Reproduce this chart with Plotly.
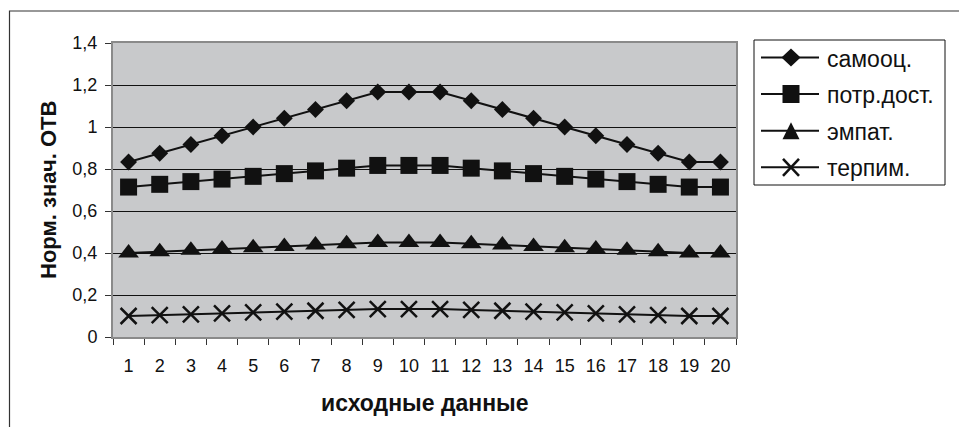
import plotly.graph_objects as go

# исходные данные: 20 наблюдений
categories = [str(i) for i in range(1, 21)]

samoots = [0.833, 0.875, 0.917, 0.958, 1.000, 1.042, 1.083, 1.125, 1.167, 1.167,
           1.167, 1.125, 1.083, 1.042, 1.000, 0.958, 0.917, 0.875, 0.833, 0.833]
potr_dost = [0.714, 0.727, 0.740, 0.752, 0.765, 0.778, 0.791, 0.804, 0.817, 0.817,
             0.817, 0.804, 0.791, 0.778, 0.765, 0.752, 0.740, 0.727, 0.714, 0.714]
empat = [0.400, 0.406, 0.413, 0.419, 0.425, 0.431, 0.438, 0.444, 0.450, 0.450,
         0.450, 0.444, 0.438, 0.431, 0.425, 0.419, 0.413, 0.406, 0.400, 0.400]
terpim = [0.100, 0.104, 0.108, 0.113, 0.117, 0.121, 0.125, 0.129, 0.133, 0.133,
          0.133, 0.129, 0.125, 0.121, 0.117, 0.113, 0.108, 0.104, 0.100, 0.100]

series_names = ["самооц.", "потр.дост.", "эмпат.", "терпим."]
y_ticks = [0, 0.2, 0.4, 0.6, 0.8, 1.0, 1.2, 1.4]

FONT = "Liberation Sans, Arial, Helvetica, sans-serif"
INK = "#111111"

# plot area in pixels (figure 959 x 427)
PX_L, PX_R, PX_T, PX_B = 113, 736, 43, 337


def px_x(px):
    return (px - PX_L) / (PX_R - PX_L)


def px_y(py):
    return (PX_B - py) / (PX_B - PX_T)


def poly(points):
    """Closed SVG path in paper coordinates from pixel vertices."""
    parts = [f"{px_x(x):.5f},{px_y(y):.5f}" for x, y in points]
    return "M" + " L".join(parts) + " Z"


symbols = ["diamond", "square", "triangle-up", "x-thin-open"]
plot_sizes = [13, 17, 18, 16]

series = list(zip(series_names, [samoots, potr_dost, empat, terpim], symbols, plot_sizes))

fig = go.Figure()
for name, values, symbol, size in series:
    is_x = symbol.startswith("x")
    fig.add_trace(go.Scatter(
        x=categories, y=values, name=name, mode="lines+markers",
        line=dict(color=INK, width=2),
        marker=dict(color=INK, symbol=symbol, size=size,
                    line=dict(width=2.5 if is_x else 0, color=INK)),
        showlegend=False,
    ))

# legend drawn by hand: box, line samples, marker glyphs, labels
LEG_L, LEG_R, LEG_T, LEG_B = 754, 945, 40, 185
LEG_ROWS = [57.5, 94, 130.7, 167.3]
SAMPLE_L, SAMPLE_R, MARK_X, TEXT_X = 761, 819, 791, 825

shapes = [
    # рамка области диаграммы
    dict(type="rect", xref="paper", yref="paper",
         x0=px_x(9.5), x1=1.6, y0=-0.6, y1=px_y(11),
         line=dict(color="#333333", width=1.2), fillcolor="rgba(0,0,0,0)", layer="below"),
    dict(type="rect", xref="paper", yref="paper",
         x0=px_x(LEG_L), x1=px_x(LEG_R), y0=px_y(LEG_B), y1=px_y(LEG_T),
         line=dict(color=INK, width=1), fillcolor="white", layer="below"),
]


def legend_glyph(symbol, cx, cy):
    fill = dict(type="path", xref="paper", yref="paper", fillcolor=INK, line=dict(width=0))
    if symbol == "diamond":
        return [dict(fill, path=poly([(cx - 9.5, cy), (cx, cy - 9), (cx + 9.5, cy), (cx, cy + 9)]))]
    if symbol == "square":
        return [dict(fill, path=poly([(cx - 8.5, cy - 9), (cx + 8.5, cy - 9),
                                      (cx + 8.5, cy + 9), (cx - 8.5, cy + 9)]))]
    if symbol == "triangle-up":
        return [dict(fill, path=poly([(cx - 8.5, cy + 8.5), (cx + 8.5, cy + 8.5), (cx, cy - 8.5)]))]
    cross = []
    for dx in (-8, 8):
        cross.append(dict(type="line", xref="paper", yref="paper",
                          x0=px_x(cx - dx), x1=px_x(cx + dx),
                          y0=px_y(cy - 8.5), y1=px_y(cy + 8.5),
                          line=dict(color=INK, width=2.5)))
    return cross


annotations = []
for (name, _, symbol, _), row in zip(series, LEG_ROWS):
    shapes.append(dict(type="line", xref="paper", yref="paper",
                       x0=px_x(SAMPLE_L), x1=px_x(SAMPLE_R), y0=px_y(row), y1=px_y(row),
                       line=dict(color=INK, width=2)))
    shapes.extend(legend_glyph(symbol, MARK_X, row))
    annotations.append(dict(text=name, xref="paper", yref="paper",
                            x=px_x(TEXT_X), y=px_y(row + 1), xanchor="left", yanchor="middle",
                            showarrow=False, font=dict(size=23, family=FONT, color=INK)))

annotations += [
    dict(text="<b>исходные данные</b>", xref="paper", yref="paper",
         x=0.5, y=px_y(403), xanchor="center", yanchor="middle",
         showarrow=False, font=dict(size=23, family=FONT, color=INK)),
    dict(text="<b>Норм. знач. ОТВ</b>", xref="paper", yref="paper",
         x=px_x(48), y=0.5, xanchor="center", yanchor="middle",
         textangle=-90, showarrow=False, font=dict(size=22, family=FONT, color=INK)),
]

fig.update_layout(
    width=959, height=427,
    margin=dict(l=PX_L, r=959 - PX_R, t=PX_T, b=427 - PX_B),
    paper_bgcolor="white",
    plot_bgcolor="#c8c9cb",
    separators=", ",
    font=dict(family=FONT, color=INK, size=18),
    showlegend=False,
    xaxis=dict(
        type="category", tickson="boundaries", tickangle=0, range=[-0.5, 19.5],
        ticks="outside", ticklen=6, tickcolor="#333333", tickwidth=1,
        showgrid=False, showline=True, linecolor="#8a8a8a", linewidth=2, mirror=True,
        tickfont=dict(size=18), ticklabelstandoff=11,
    ),
    yaxis=dict(
        range=[0, 1.4], tickvals=y_ticks,
        ticks="outside", ticklen=6, tickcolor="#333333", tickwidth=1,
        showgrid=True, gridcolor="#111111", gridwidth=1, zeroline=False,
        showline=True, linecolor="#8a8a8a", linewidth=2, mirror=True,
        tickfont=dict(size=18), ticklabelstandoff=4,
    ),
    annotations=annotations,
    shapes=shapes,
)

fig.write_html("out.html")
